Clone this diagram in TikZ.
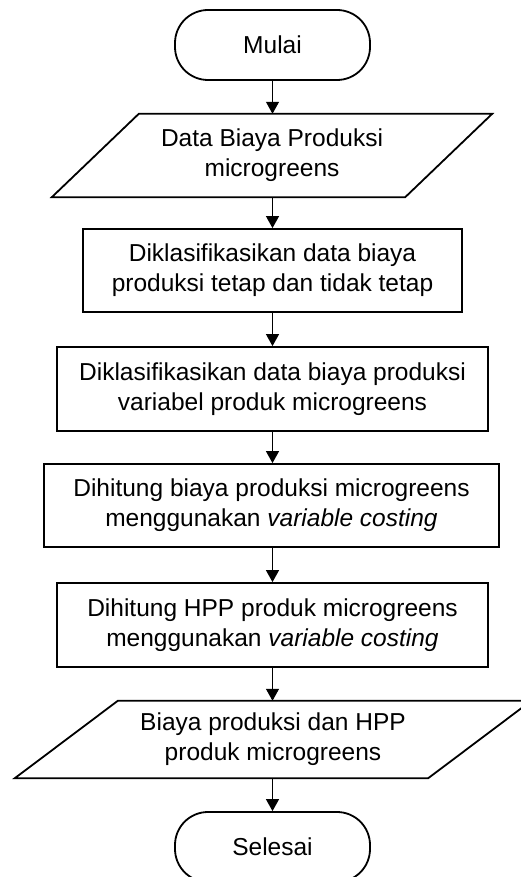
\documentclass[tikz,border=0pt]{standalone}
\usepackage{fontspec}
\setmainfont{Liberation Sans}
\usetikzlibrary{arrows.meta,calc}

\tikzset{
  x=1pt, y=-1pt,
  every node/.style={font=\fontsize{24.5}{30}\selectfont, align=center, inner sep=0pt},
  terminal/.style={draw, line width=1.8pt, rounded corners=33pt,
    minimum width=195pt, minimum height=70pt},
  procbox/.style={draw, line width=1.8pt, minimum height=83pt},
  iobox/.style={minimum height=#1},
  flow/.style={line width=1.1pt, -{Triangle[width=13pt,length=12pt]}},
  ioline/.style={line width=1.8pt, line join=miter}
}

\begin{document}
\begin{tikzpicture}
  \useasboundingbox (0,0) rectangle (520,877);

  % terminals and process steps
  \node[terminal] (start) at (272.5,45) {Mulai};
  \node[iobox=83pt, minimum width=353pt] (in) at (272,155.5)
    {Data Biaya Produksi\\microgreens};
  \node[procbox, minimum width=379pt] (s1) at (272.5,270.5)
    {Diklasifikasikan data biaya\\produksi tetap dan tidak tetap};
  \node[procbox, minimum width=431pt, minimum height=84pt] (s2) at (272.5,389)
    {Diklasifikasikan data biaya produksi\\variabel produk microgreens};
  \node[procbox, minimum width=455pt] (s3) at (271.5,505.5)
    {Dihitung biaya produksi microgreens\\menggunakan \textit{variable costing}};
  \node[procbox, minimum width=431pt, minimum height=84pt] (s4) at (272.5,625)
    {Dihitung HPP produk microgreens\\menggunakan \textit{variable costing}};
  \node[iobox=77pt, minimum width=413pt] (out) at (273,739.5)
    {Biaya produksi dan HPP\\produk microgreens};
  \node[terminal] (stop) at (272.5,847) {Selesai};

  % input/output parallelograms
  \draw[ioline] ($(in.north west)+(43.5,0)$) -- ($(in.north east)+(43.5,0)$)
    -- ($(in.south east)+(-43.5,0)$) -- ($(in.south west)+(-43.5,0)$) -- cycle;
  \draw[ioline] ($(out.north west)+(51.5,0)$) -- ($(out.north east)+(51.5,0)$)
    -- ($(out.south east)+(-51.5,0)$) -- ($(out.south west)+(-51.5,0)$) -- cycle;

  % connectors
  \draw[flow] (start.south) -- (start.south |- in.north);
  \draw[flow] (start.south |- in.south) -- (start.south |- s1.north);
  \draw[flow] (start.south |- s1.south) -- (start.south |- s2.north);
  \draw[flow] (start.south |- s2.south) -- (start.south |- s3.north);
  \draw[flow] (start.south |- s3.south) -- (start.south |- s4.north);
  \draw[flow] (start.south |- s4.south) -- (start.south |- out.north);
  \draw[flow] (start.south |- out.south) -- (stop.north);
\end{tikzpicture}
\end{document}
